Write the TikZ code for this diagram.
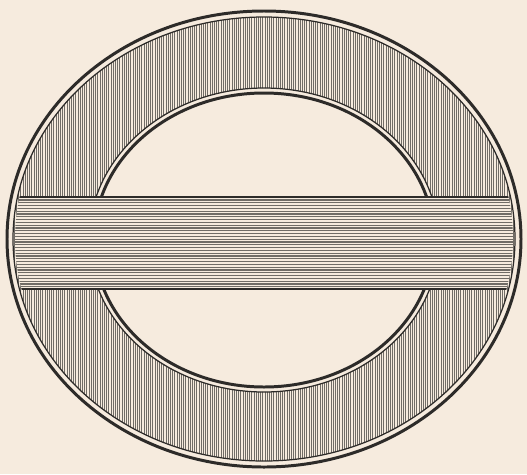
\documentclass[tikz,border=0pt]{standalone}
\usepackage{xcolor}
\definecolor{paper}{RGB}{246,235,222}
\definecolor{ink}{RGB}{45,43,41}
\definecolor{hatch}{RGB}{112,108,102}
\begin{document}
\begin{tikzpicture}[x=0.02cm, y=-0.02cm,
    thickrim/.style={ink, line width=1.7pt},
    thinrim/.style={ink, line width=0.7pt},
    vhatch/.style={hatch, line width=0.5pt},
    hhatch/.style={hatch, line width=0.6pt},
    barline/.style={ink, line width=1.4pt}]

    % --- 1. 背景と描画範囲 ---
    \fill[paper] (0, 0) rectangle (527, 474);
    \useasboundingbox (0, 0) rectangle (527, 474);
    \coordinate (C) at (264, 239);
    \coordinate (Ci) at (264, 240);

    % --- 2. 環の縦線ハッチング ---
    \begin{scope}[even odd rule]
    \clip (C) ellipse (251 and 222) (Ci) ellipse (175 and 152);
    \foreach \i in {0,...,235}
        \draw[vhatch] ({12 + 2.2*\i}, 10) -- ({12 + 2.2*\i}, 470);
    \end{scope}

    % --- 3. 外側と内側の縁 ---
    \draw[thickrim] (C) ellipse (257 and 228);
    \draw[thinrim]  (C) ellipse (251 and 222);
    \draw[thinrim]  (Ci) ellipse (175 and 152);
    \draw[thickrim] (Ci) ellipse (170 and 147);

    % --- 4. 横棒 (横線ハッチング) ---
    \coordinate (BarTop) at (0, 197);
    \coordinate (BarBot) at (527, 289);
    \begin{scope}
    \clip (C) ellipse (249 and 220);
    \fill[paper] (BarTop) rectangle (BarBot);
    \foreach \j in {0,...,31}
        \draw[hhatch] (0, {200 + 2.8*\j}) -- (527, {200 + 2.8*\j});
    \draw[barline] (BarTop) -- (BarTop -| BarBot);
    \draw[barline] (BarBot) -- (BarBot -| BarTop);
    \end{scope}

\end{tikzpicture}
\end{document}
